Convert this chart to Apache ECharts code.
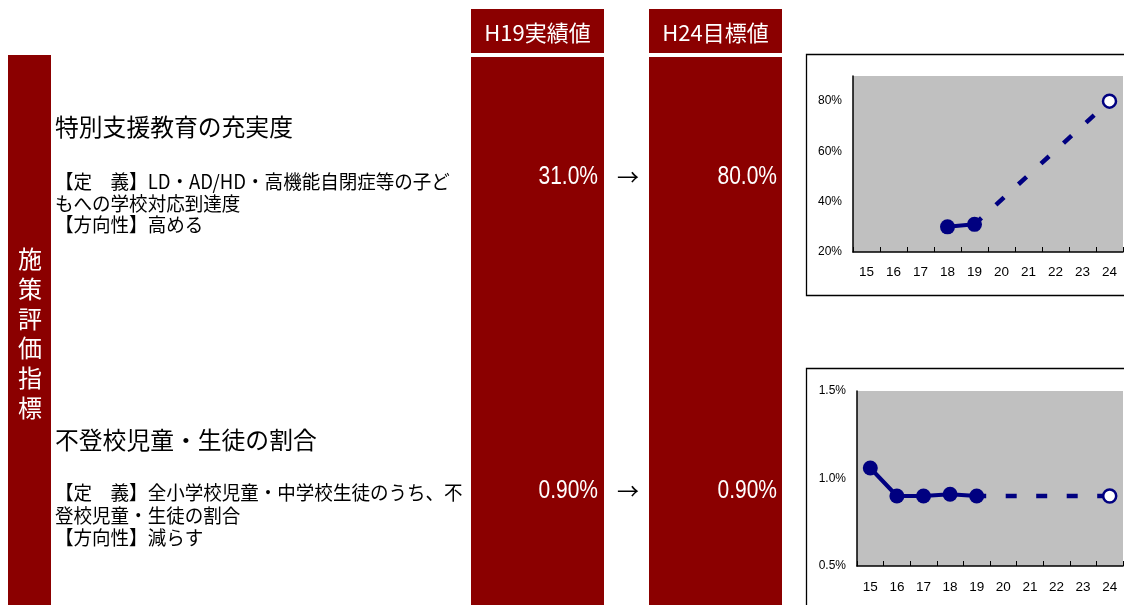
<!DOCTYPE html>
<html>
<head>
<meta charset="utf-8">
<script src="https://cdn.jsdelivr.net/npm/echarts@6/dist/echarts.min.js"></script>
<style>
html, body { margin:0; padding:0; background:#fff; }
#main { width:1124px; height:605px; }
</style>
</head>
<body>
<div id="main"></div>
<script>
// 年度 (H15 - H24)
var years = ['15','16','17','18','19','20','21','22','23','24'];

// 特別支援教育の充実度 (%)
var supportActual = [null, null, null, 30, 31, null, null, null, null, null];
var supportTarget = [null, null, null, null, 31, null, null, null, null, 80];

// 不登校児童・生徒の割合 (%)
var absentActual = [1.06, 0.90, 0.90, 0.91, 0.90, null, null, null, null, null];
var absentTarget = [null, null, null, null, 0.90, null, null, null, null, 0.90];

var headers = ['H19実績値', 'H24目標値'];
var h19Values = ['31.0%', '0.90%'];
var h24Values = ['80.0%', '0.90%'];
var sideLabel = ['施', '策', '評', '価', '指', '標'];
var titles = ['特別支援教育の充実度', '不登校児童・生徒の割合'];
var defines = [
	['【定　義】LD・AD/HD・高機能自閉症等の子ど', 'もへの学校対応到達度', '【方向性】高める'],
	['【定　義】全小学校児童・中学校生徒のうち、不', '登校児童・生徒の割合', '【方向性】減らす']
];

var RED = '#8b0000',
	NAVY = '#000080',
	JP = '"Noto Sans CJK JP", sans-serif',
	NUM = '"Liberation Sans", sans-serif';

// scale: 横方向の縮め (元資料の細いフォントに合わせる)
function txt(x, y, s, size, color, align, family, scale){
	return {
		type: 'text',
		z: 10,
		x: x, y: y,
		scaleX: scale || 1,
		style: {
			x: 0, y: 0, text: s,
			fill: color,
			fontSize: size,
			fontFamily: family || JP,
			textAlign: align || 'left',
			textVerticalAlign: 'middle'
		}
	};
}

function box(x, y, w, h){
	return { type: 'rect', shape: { x: x, y: y, width: w, height: h }, style: { fill: RED } };
}

function frame(x, y, w, h){
	return { type: 'rect', z: 1, shape: { x: x, y: y, width: w, height: h }, style: { fill: 'none', stroke: '#000', lineWidth: 1.3 } };
}

var graphics = [
	box(8, 55, 43, 550),
	box(471, 9, 133, 44), box(649, 9, 133, 44),
	box(471, 57, 133, 548), box(649, 57, 133, 548),
	frame(806.5, 54.5, 340, 241),
	frame(806.5, 368.5, 340, 300),
	txt(537.5, 33, headers[0], 22, '#fff', 'center'),
	txt(715.5, 33, headers[1], 22, '#fff', 'center')
];

sideLabel.forEach(function(c, i){
	graphics.push(txt(30, 259 + i * 29.7, c, 24, '#fff', 'center'));
});

// 指標ごとのテキスト
var rowTitleY = [127, 440],
	rowDefY = [[182, 203.5, 225], [493, 515.5, 538]],
	rowValY = [177, 491];

titles.forEach(function(t, i){
	graphics.push(txt(55, rowTitleY[i], t, 23.8, '#000'));
	defines[i].forEach(function(line, j){
		graphics.push(txt(55, rowDefY[i][j], line, 19.5, '#000', 'left', JP, 0.95));
	});
	graphics.push(txt(598, rowValY[i], h19Values[i], 25, '#fff', 'right', NUM, 0.84));
	graphics.push(txt(777, rowValY[i], h24Values[i], 25, '#fff', 'right', NUM, 0.84));
	graphics.push(txt(628, rowValY[i], '→', 22, '#000', 'center'));
});

function targetData(arr){
	var last = arr.length - 1;
	return arr.map(function(v, i){
		if(v == null) return null;
		if(i === last){
			return {
				value: v,
				symbol: 'circle',
				symbolSize: 13,
				itemStyle: { color: '#fff', borderColor: NAVY, borderWidth: 2.5 }
			};
		}
		return { value: v, symbol: 'none' };
	});
}

function xAxisOf(gridIndex, margin){
	return {
		type: 'category',
		gridIndex: gridIndex,
		data: years,
		boundaryGap: true,
		axisLine: { lineStyle: { color: '#000', width: 1.5 } },
		axisTick: { show: true, inside: true, length: 5, alignWithLabel: false, lineStyle: { color: '#000' } },
		axisLabel: { color: '#000', fontSize: 13.5, margin: margin, fontFamily: '"Liberation Sans", sans-serif' },
		splitLine: { show: false }
	};
}

function yAxisOf(gridIndex, min, max, interval, fmt){
	return {
		type: 'value',
		gridIndex: gridIndex,
		min: min, max: max, interval: interval,
		axisLine: { show: true, lineStyle: { color: '#000', width: 1.5 } },
		axisTick: { show: false },
		splitLine: { show: false },
		axisLabel: { color: '#000', fontSize: 12, margin: 11, fontFamily: '"Liberation Sans", sans-serif', formatter: fmt }
	};
}

var lineActual = { color: NAVY, width: 4 },
	lineTarget = { color: NAVY, width: 4.5, type: [11, 19.5], dashOffset: 1.5 };

var chart = echarts.init(document.getElementById('main'));

var option = {
	animation: false,
	backgroundColor: '#fff',
	graphic: graphics,
	grid: [
		{ left: 853, top: 76, width: 270, height: 176, show: true, backgroundColor: '#c0c0c0', borderWidth: 0, containLabel: false, outerBoundsMode: 'none' },
		{ left: 857, top: 391, width: 266, height: 175, show: true, backgroundColor: '#c0c0c0', borderWidth: 0, containLabel: false, outerBoundsMode: 'none' }
	],
	xAxis: [xAxisOf(0, 13), xAxisOf(1, 14)],
	yAxis: [
		yAxisOf(0, 20, 90, 20, function(v){ return v > 80 ? '' : v + '%'; }),
		yAxisOf(1, 0.5, 1.5, 0.5, function(v){ return v.toFixed(1) + '%'; })
	],
	series: [
		{
			type: 'line', xAxisIndex: 0, yAxisIndex: 0, z: 2,
			data: targetData(supportTarget),
			connectNulls: true,
			lineStyle: lineTarget
		},
		{
			type: 'line', xAxisIndex: 0, yAxisIndex: 0, z: 3,
			data: supportActual,
			symbol: 'circle', symbolSize: 15,
			itemStyle: { color: NAVY },
			lineStyle: lineActual
		},
		{
			type: 'line', xAxisIndex: 1, yAxisIndex: 1, z: 2,
			data: targetData(absentTarget),
			connectNulls: true,
			lineStyle: lineTarget
		},
		{
			type: 'line', xAxisIndex: 1, yAxisIndex: 1, z: 3,
			data: absentActual,
			symbol: 'circle', symbolSize: 15,
			itemStyle: { color: NAVY },
			lineStyle: lineActual
		}
	]
};

chart.setOption(option);
</script>
</body>
</html>
